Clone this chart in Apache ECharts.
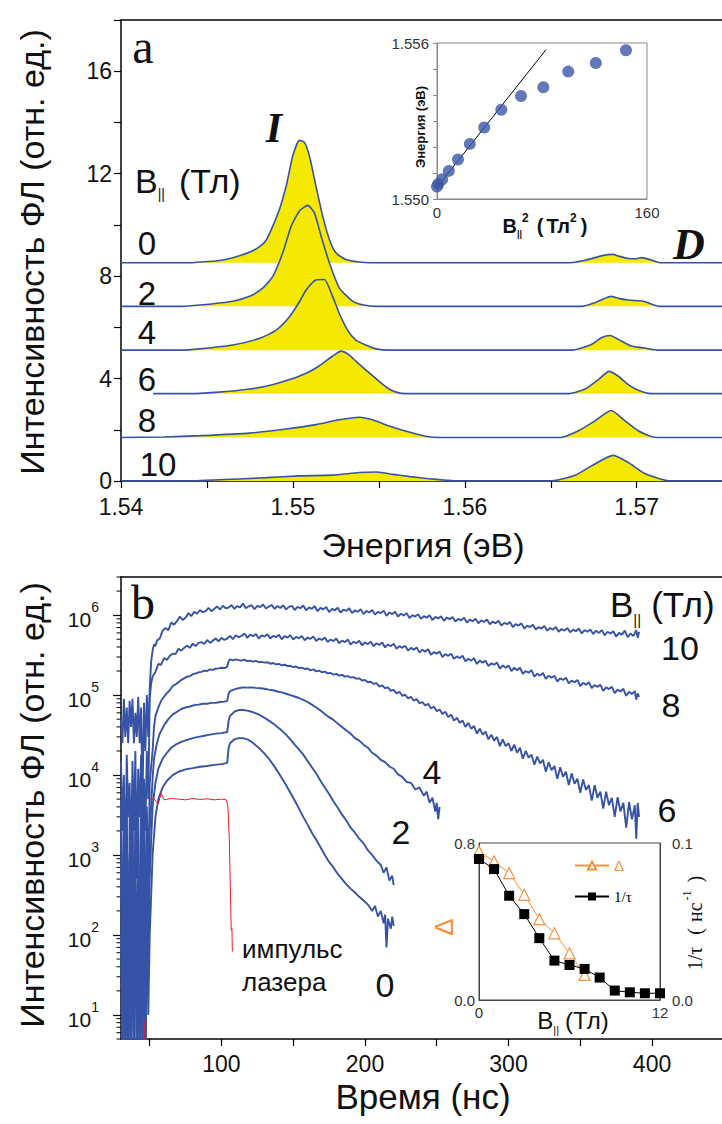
<!DOCTYPE html>
<html><head><meta charset="utf-8">
<script src="https://cdn.jsdelivr.net/npm/echarts@6/dist/echarts.min.js"></script>
<style>html,body{margin:0;padding:0;background:#fff}#c{width:722px;height:1124px}</style>
</head><body><div id="c"></div>
<script>
const SANS = '"Liberation Sans", Arial, sans-serif';
const SERIF = '"Liberation Serif", "Times New Roman", serif';
const BLUE = '#3653a6', YEL = '#f6e900', RED = '#ee1c24', ORANGE = '#f5923e', INK = '#111';

// ---------- panel a : spectra ----------
const fieldsA = ['0','2','4','6','8','10'];
const baselineA = [8.52, 6.82, 5.11, 3.41, 1.70, 0];
const spec0 = [[1.5400,0],[1.5440,0],[1.5446,0.03],[1.5455,0.07],[1.5465,0.2],[1.5475,0.42],[1.5481,0.65],[1.54845,0.89],[1.54883,1.43],[1.54922,2.09],[1.54961,3.0],[1.54999,4.17],[1.55038,4.78],[1.55067,4.7],[1.55096,4.17],[1.55134,3.0],[1.55173,1.83],[1.55212,0.91],[1.5525,0.39],[1.55308,0.13],[1.55386,0.03],[1.5545,0],[1.5660,0],[1.5670,0.1],[1.5680,0.28],[1.5686,0.33],[1.5690,0.25],[1.5695,0.17],[1.5699,0.16],[1.5703,0.2],[1.5708,0.12],[1.5714,0],[1.575,0]];
const spec2 = [[1.5400,0],[1.5435,0],[1.54458,0.05],[1.54651,0.2],[1.54748,0.39],[1.54826,0.72],[1.54883,1.17],[1.54941,2.09],[1.5499,3.13],[1.55038,3.72],[1.55086,3.94],[1.55125,3.65],[1.55164,2.74],[1.55212,1.7],[1.5527,0.72],[1.55347,0.2],[1.55405,0.06],[1.55483,0],[1.5668,0],[1.5676,0.15],[1.5681,0.3],[1.5685,0.39],[1.5690,0.3],[1.5695,0.25],[1.5700,0.22],[1.5704,0.2],[1.5708,0.1],[1.5713,0],[1.575,0]];
const spec4 = [[1.5400,0],[1.5435,0],[1.54458,0.05],[1.54651,0.2],[1.54806,0.46],[1.54903,0.78],[1.5498,1.3],[1.55038,1.89],[1.55077,2.35],[1.55134,2.74],[1.55183,2.76],[1.55231,2.09],[1.5527,1.43],[1.55318,0.78],[1.55366,0.39],[1.55424,0.2],[1.55483,0.05],[1.5556,0],[1.5662,0],[1.56736,0.22],[1.56794,0.48],[1.56844,0.57],[1.56893,0.42],[1.56968,0.16],[1.57047,0.08],[1.5712,0],[1.575,0]];
const spec6 = [[1.54187,0],[1.5440,0],[1.5455,0.05],[1.5475,0.18],[1.5488,0.35],[1.5498,0.55],[1.5508,0.81],[1.5515,1.07],[1.5523,1.46],[1.5528,1.66],[1.5532,1.55],[1.5537,1.25],[1.5542,0.95],[1.5549,0.55],[1.5555,0.22],[1.556,0.06],[1.5566,0],[1.566,0],[1.567,0.18],[1.56777,0.55],[1.56839,0.87],[1.56893,0.68],[1.56951,0.35],[1.57009,0.13],[1.57084,0],[1.575,0]];
const spec8 = [[1.54,0],[1.5425,0.02],[1.54458,0.07],[1.54748,0.17],[1.54961,0.33],[1.55134,0.5],[1.5527,0.69],[1.55386,0.79],[1.55463,0.69],[1.5556,0.45],[1.55681,0.2],[1.55778,0.04],[1.5585,0],[1.5656,0],[1.56661,0.26],[1.56758,0.65],[1.56851,1.05],[1.56932,0.65],[1.57009,0.26],[1.57084,0.04],[1.5712,0],[1.575,0]];
const spec10 = [[1.54,0],[1.5445,0.02],[1.54651,0.07],[1.54845,0.13],[1.55038,0.2],[1.55231,0.23],[1.55386,0.33],[1.55488,0.35],[1.55584,0.26],[1.55681,0.17],[1.55778,0.1],[1.55894,0.03],[1.5595,0],[1.565,0],[1.56642,0.22],[1.56736,0.59],[1.56864,1.0],[1.56951,0.72],[1.57047,0.29],[1.57142,0.07],[1.572,0],[1.575,0]];
const spectraA = [spec0, spec2, spec4, spec6, spec8, spec10];

// ---------- inset a ----------
const insetBsq = [0,1,4,9,16,25,36,49,64,81,100,121,144];
const insetEnergy = [1.55048,1.55058,1.55076,1.55108,1.55152,1.55212,1.55275,1.55343,1.55396,1.5543,1.5549,1.55523,1.55572];
const fitBsq = [0, 83];
const fitEnergy = [1.55045, 1.55574];

// ---------- panel b : decays ----------
const noiseT = [30,31,32,33,34,35,36,37,38,39,40,41,42,43,44,45,46,47,48,49];
const noise10 = [5e4,2.5e4,9e4,3e4,7e4,2.5e4,8.5e4,4e4,9e4,2.5e4,6e4,3e4,9.5e4,2.5e4,7e4,5e3,8e4,2e4,1e5,3e4];
const noise8 = [1.5e4,2e3,1e4,500,1.8e4,3e3,8e3,1e3,1.5e4,2e3,2e4,800,1.2e4,3e3,1.8e4,1e3,9e3,2e3,2e4,5e3];
const noise6 = [5e3,20,4e3,200,5e3,8,3e3,100,5e3,30,4e3,500,5e3,10,3e3,200,5e3,50,4e3,300];
const noise4 = [3e3,2,2e3,50,4e3,3,1e3,10,3e3,2,500,40,2e3,3,4e3,20,1e3,2,2e3,100];
const noise2 = [800,3,1e3,2,300,20,900,1,500,8,700,3,200,2,1e3,5,400,2,800,30];
const noise0 = [100,2,400,3,60,1,200,2,50,6,300,1,150,4,80,2,300,3,200,10];
const decay10 = [[50,1.2e5],[51,2.6e5],[52,3.6e5],[53,4.3e5],[54,4.1e5],[55,4.8e5],[57,5.1e5],[59,6.4e5],[61,6.9e5],[63,6.5e5],[65,8.1e5],[67,7.6e5],[69,8.4e5],[71,9.6e5],[73,8.7e5],[75,9.3e5],[77,1.06e6],[79,9.7e5],[81,1.1e6],[83,1.04e6],[85,1.16e6],[87,1.09e6],[89,1.12e6],[91,1.23e6],[93,1.12e6],[95,1.2e6],[97,1.28e6],[99,1.18e6],[101,1.31e6],[103,1.22e6],[105,1.24e6],[107,1.34e6],[109,1.2e6],[111,1.3e6],[113,1.25e6],[115,1.4e6],[117,1.22e6],[119,1.29e6],[121,1.33e6],[123,1.19e6],[125,1.31e6],[127,1.26e6],[129,1.36e6],[131,1.21e6],[133,1.28e6],[135,1.34e6],[137,1.2e6],[139,1.3e6],[141,1.23e6],[143,1.33e6],[145,1.18e6],[147,1.27e6],[149,1.31e6],[151,1.16e6],[153,1.27e6],[155,1.22e6],[157,1.32e6],[159,1.15e6],[161,1.25e6],[163,1.2e6],[165,1.29e6],[167,1.12e6],[169,1.23e6],[171,1.18e6],[173,1.27e6],[175,1.09e6],[177,1.2e6],[179,1.15e6],[181,1.24e6],[183,1.08e6],[185,1.17e6],[187,1.13e6],[189,1.22e6],[191,1.06e6],[193,1.15e6],[195,1.1e6],[197,1.19e6],[199,1.03e6],[201,1.13e6],[203,1.08e6],[205,1.16e6],[207,1.02e6],[209,1.1e6],[211,1.06e6],[213,1.14e6],[215,9.8e5],[217,1.08e6],[219,1.03e6],[221,1.1e6],[223,9.6e5],[225,1.04e6],[227,9.9e5],[229,1.06e6],[231,9.2e5],[233,1.0e6],[235,9.6e5],[237,1.03e6],[239,9.0e5],[241,9.7e5],[243,9.3e5],[245,1.0e6],[247,8.7e5],[249,9.5e5],[251,9.1e5],[253,9.7e5],[255,8.5e5],[257,9.3e5],[259,8.9e5],[261,9.5e5],[263,8.3e5],[265,9.0e5],[267,8.6e5],[269,9.3e5],[271,8.1e5],[273,8.8e5],[275,8.4e5],[277,9.0e5],[279,7.9e5],[281,8.6e5],[283,8.2e5],[285,8.8e5],[287,7.7e5],[289,8.3e5],[291,7.9e5],[293,8.5e5],[295,7.4e5],[297,8.0e5],[299,7.7e5],[301,8.2e5],[303,7.1e5],[305,7.7e5],[307,7.4e5],[309,7.9e5],[311,6.8e5],[313,7.4e5],[315,7.1e5],[317,7.6e5],[319,6.6e5],[321,7.1e5],[323,6.8e5],[325,7.3e5],[327,6.4e5],[329,6.9e5],[331,6.6e5],[333,7.1e5],[335,6.2e5],[337,6.7e5],[339,6.4e5],[341,6.9e5],[343,6.1e5],[345,6.6e5],[347,6.3e5],[349,6.8e5],[351,5.9e5],[353,6.5e5],[355,6.2e5],[357,6.6e5],[359,5.8e5],[361,6.4e5],[363,6.0e5],[365,6.5e5],[367,5.6e5],[369,6.2e5],[371,5.9e5],[373,6.3e5],[375,5.4e5],[377,6.0e5],[379,5.7e5],[381,6.4e5],[383,5.3e5],[385,5.9e5],[387,5.5e5],[389,6.5e5],[390,5.2e5],[391,6.2e5]];
const decay8 = [[50,9e4],[51,1.4e5],[52,1.7e5],[54,1.95e5],[56,2.45e5],[58,2.4e5],[60,2.9e5],[62,2.75e5],[64,3.1e5],[66,3.3e5],[68,3.25e5],[70,3.8e5],[72,3.6e5],[74,3.9e5],[76,4.15e5],[78,3.9e5],[80,4.4e5],[82,4.1e5],[84,4.5e5],[86,4.6e5],[88,4.35e5],[90,4.9e5],[92,4.5e5],[94,4.8e5],[96,5.1e5],[98,4.7e5],[100,5.2e5],[102,4.9e5],[104,5.1e5],[106,5.5e5],[108,5.0e5],[110,5.6e5],[112,5.3e5],[114,5.5e5],[116,5.9e5],[118,5.2e5],[120,5.7e5],[122,5.45e5],[124,5.8e5],[126,5.1e5],[128,5.6e5],[130,5.4e5],[132,5.75e5],[134,5.1e5],[136,5.5e5],[138,5.3e5],[140,5.7e5],[142,5.0e5],[144,5.45e5],[146,5.25e5],[148,5.6e5],[150,4.95e5],[152,5.35e5],[154,5.15e5],[156,5.5e5],[158,4.85e5],[160,5.25e5],[162,5.05e5],[164,5.4e5],[166,4.75e5],[168,5.1e5],[170,4.9e5],[172,5.25e5],[174,4.6e5],[176,4.95e5],[178,4.75e5],[180,5.1e5],[182,4.45e5],[184,4.8e5],[186,4.6e5],[188,4.95e5],[190,4.3e5],[192,4.65e5],[194,4.45e5],[196,4.8e5],[198,4.2e5],[200,4.55e5],[202,4.35e5],[204,4.65e5],[206,4.1e5],[208,4.45e5],[210,4.25e5],[212,4.55e5],[214,3.95e5],[216,4.3e5],[218,4.1e5],[220,4.4e5],[222,3.8e5],[224,4.1e5],[226,3.9e5],[228,4.15e5],[230,3.6e5],[232,3.9e5],[234,3.7e5],[236,3.95e5],[238,3.4e5],[240,3.7e5],[242,3.5e5],[244,3.75e5],[246,3.2e5],[248,3.45e5],[250,3.3e5],[252,3.5e5],[254,3.0e5],[256,3.25e5],[258,3.1e5],[260,3.3e5],[262,2.85e5],[264,3.05e5],[266,2.9e5],[268,3.1e5],[270,2.65e5],[272,2.85e5],[274,2.7e5],[276,2.9e5],[278,2.45e5],[280,2.7e5],[282,2.55e5],[284,2.7e5],[286,2.3e5],[288,2.5e5],[290,2.4e5],[292,2.55e5],[294,2.15e5],[296,2.35e5],[298,2.2e5],[300,2.35e5],[302,2.0e5],[304,2.2e5],[306,2.05e5],[308,2.2e5],[310,1.85e5],[312,2.0e5],[314,1.9e5],[316,2.05e5],[318,1.7e5],[320,1.85e5],[322,1.75e5],[324,1.9e5],[326,1.6e5],[328,1.75e5],[330,1.65e5],[332,1.75e5],[334,1.48e5],[336,1.62e5],[338,1.55e5],[340,1.65e5],[342,1.4e5],[344,1.52e5],[346,1.45e5],[348,1.55e5],[350,1.3e5],[352,1.42e5],[354,1.35e5],[356,1.45e5],[358,1.22e5],[360,1.33e5],[362,1.27e5],[364,1.35e5],[366,1.13e5],[368,1.25e5],[370,1.19e5],[372,1.27e5],[374,1.06e5],[376,1.17e5],[378,1.11e5],[380,1.2e5],[382,9.8e4],[384,1.1e5],[386,1.03e5],[388,1.12e5],[389,8.8e4],[390,1.05e5],[391,9.5e4]];
const decay6 = [[50,8e3],[52,2e4],[53,4e4],[54,5.5e4],[56,7e4],[58,8.5e4],[60,9.6e4],[62,1.06e5],[64,1.15e5],[66,1.3e5],[68,1.36e5],[70,1.45e5],[72,1.55e5],[74,1.62e5],[76,1.7e5],[78,1.72e5],[80,1.83e5],[82,1.86e5],[84,1.93e5],[86,1.95e5],[88,2.02e5],[90,2.0e5],[92,2.1e5],[94,2.07e5],[96,2.14e5],[98,2.16e5],[100,2.2e5],[102,2.18e5],[104,2.26e5],[105,2.65e5],[106,2.8e5],[108,2.72e5],[110,2.8e5],[112,2.74e5],[114,2.7e5],[116,2.78e5],[118,2.66e5],[120,2.7e5],[122,2.62e5],[124,2.68e5],[126,2.58e5],[128,2.6e5],[130,2.55e5],[132,2.58e5],[134,2.47e5],[136,2.52e5],[138,2.42e5],[140,2.46e5],[142,2.36e5],[144,2.4e5],[146,2.3e5],[148,2.33e5],[150,2.24e5],[152,2.28e5],[154,2.18e5],[156,2.21e5],[158,2.12e5],[160,2.15e5],[162,2.04e5],[164,2.1e5],[166,1.98e5],[168,2.02e5],[170,1.93e5],[172,1.97e5],[174,1.87e5],[176,1.9e5],[178,1.8e5],[180,1.84e5],[182,1.75e5],[184,1.79e5],[186,1.7e5],[188,1.73e5],[190,1.66e5],[192,1.68e5],[194,1.6e5],[196,1.62e5],[198,1.52e5],[200,1.55e5],[202,1.45e5],[204,1.47e5],[206,1.38e5],[208,1.41e5],[210,1.28e5],[212,1.32e5],[214,1.22e5],[216,1.25e5],[218,1.13e5],[220,1.16e5],[222,1.05e5],[224,1.1e5],[226,9.8e4],[228,1.01e5],[230,9.1e4],[232,9.5e4],[234,8.5e4],[236,8.9e4],[238,7.9e4],[240,8.2e4],[242,7.4e4],[244,7.8e4],[246,6.8e4],[248,7.2e4],[250,6.3e4],[252,6.6e4],[254,5.8e4],[256,6.2e4],[258,5.3e4],[260,5.7e4],[262,4.8e4],[264,5.2e4],[266,4.5e4],[268,4.8e4],[270,4.0e4],[272,4.5e4],[274,3.8e4],[276,4.1e4],[278,3.3e4],[280,3.8e4],[282,3.2e4],[284,3.5e4],[286,2.8e4],[288,3.2e4],[290,2.7e4],[292,3.0e4],[294,2.3e4],[296,2.8e4],[298,2.3e4],[300,2.5e4],[302,2.0e4],[304,2.4e4],[306,1.9e4],[308,2.2e4],[310,1.6e4],[312,2.0e4],[314,1.65e4],[316,1.8e4],[318,1.35e4],[320,1.7e4],[322,1.4e4],[324,1.55e4],[326,1.1e4],[328,1.45e4],[330,1.15e4],[332,1.3e4],[334,9e3],[336,1.25e4],[338,9.5e3],[340,1.1e4],[342,7.5e3],[344,1.05e4],[346,7.8e3],[348,9e3],[350,6e3],[352,8.8e3],[354,6.5e3],[356,7.5e3],[358,4.8e3],[360,7.5e3],[362,5.2e3],[364,6.2e3],[366,3.8e3],[368,6.2e3],[370,4.2e3],[372,5.2e3],[374,3.0e3],[376,5.3e3],[378,3.5e3],[380,4.5e3],[382,2.2e3],[384,4.6e3],[386,2.8e3],[388,4.2e3],[389,1.6e3],[390,4.5e3],[391,3e3]];
const decay4 = [[50,2e3],[51,4e3],[52,9e3],[53,1.6e4],[55,2.5e4],[57,3.3e4],[60,4.2e4],[63,5e4],[66,5.7e4],[69,6.2e4],[72,6.7e4],[75,7.0e4],[78,7.2e4],[81,7.5e4],[84,7.6e4],[87,7.8e4],[90,7.8e4],[93,8.0e4],[96,8.0e4],[99,8.2e4],[102,8.3e4],[104,8.4e4],[105,1.05e5],[106,1.12e5],[109,1.18e5],[112,1.22e5],[115,1.25e5],[118,1.24e5],[121,1.25e5],[124,1.23e5],[127,1.22e5],[130,1.2e5],[133,1.17e5],[136,1.15e5],[139,1.11e5],[142,1.08e5],[145,1.04e5],[148,1.0e5],[151,9.6e4],[154,9.2e4],[157,8.7e4],[160,8.2e4],[163,7.6e4],[166,7.0e4],[169,6.4e4],[172,5.8e4],[175,5.3e4],[178,4.9e4],[181,4.4e4],[184,4.0e4],[187,3.6e4],[190,3.3e4],[193,2.9e4],[196,2.7e4],[199,2.4e4],[202,2.2e4],[205,1.9e4],[208,1.75e4],[211,1.55e4],[214,1.45e4],[217,1.28e4],[220,1.2e4],[223,1.02e4],[226,9.5e3],[229,8.2e3],[232,8.0e3],[235,6.6e3],[238,7.0e3],[241,5.5e3],[243,6.2e3],[245,4.5e3],[247,5.2e3],[249,3.5e3],[250,4.5e3],[251,2.8e3],[252,4e3]];
const decay2 = [[50,500],[51,1.5e3],[52,4e3],[54,8e3],[56,1.2e4],[59,1.6e4],[62,1.9e4],[65,2.2e4],[68,2.4e4],[72,2.6e4],[76,2.75e4],[80,2.9e4],[84,3.0e4],[88,3.1e4],[92,3.2e4],[96,3.3e4],[100,3.35e4],[104,3.45e4],[105,4.8e4],[106,5.5e4],[109,6.2e4],[112,6.5e4],[115,6.5e4],[118,6.4e4],[121,6.2e4],[124,5.9e4],[127,5.6e4],[130,5.2e4],[133,4.8e4],[136,4.4e4],[139,4.0e4],[142,3.6e4],[145,3.2e4],[148,2.8e4],[151,2.4e4],[154,2.1e4],[157,1.8e4],[160,1.5e4],[163,1.25e4],[166,1.05e4],[169,8.5e3],[172,7e3],[175,5.8e3],[178,4.7e3],[181,3.9e3],[184,3.2e3],[187,2.7e3],[190,2.2e3],[193,1.9e3],[196,1.6e3],[199,1.4e3],[202,1.15e3],[205,1e3],[208,850],[211,750],[213,600],[215,700],[217,480],[219,550],[220,420]];
const decay0 = [[50,100],[51,300],[52,1e3],[54,3e3],[56,5e3],[59,7e3],[62,8.5e3],[66,1.0e4],[70,1.1e4],[75,1.18e4],[80,1.22e4],[85,1.27e4],[90,1.3e4],[95,1.34e4],[100,1.37e4],[104,1.42e4],[105,2.2e4],[106,2.5e4],[109,2.8e4],[112,2.9e4],[115,2.9e4],[118,2.8e4],[121,2.6e4],[124,2.35e4],[127,2.1e4],[130,1.85e4],[133,1.6e4],[136,1.35e4],[139,1.12e4],[142,9.2e3],[145,7.5e3],[148,6e3],[151,4.8e3],[154,3.8e3],[157,3e3],[160,2.4e3],[163,1.9e3],[166,1.55e3],[169,1.25e3],[172,1.0e3],[175,820],[178,700],[181,580],[184,500],[187,430],[190,380],[193,340],[196,300],[199,270],[202,240],[205,200],[207,230],[209,170],[211,200],[213,140],[214,180],[215,70],[216,160],[218,120],[219,170],[220,130]];
const laser = [[45.6,1],[46,8.5],[46.4,1],[46.6,'-'],[50,5e3],[53,5e3],[56,4.4e3],[58,5.9e3],[60,4.9e3],[65,5.1e3],[70,5.0e3],[75,4.9e3],[80,5.1e3],[85,4.95e3],[90,5.05e3],[95,4.9e3],[100,5.0e3],[103.4,4.9e3],[104.5,4e3],[105.5,1.5e3],[106.8,115],[107.3,120],[107.6,62]];
const fieldsB = ['10','8','6','4','2','0'];

// ---------- inset b ----------
const insetField = [0,1,2,3,4,5,6,7,8,9,10,11,12];
const insetDelta = [0.757,0.706,0.647,0.536,0.412,0.340,0.238,0.128];
const insetInvTau = [0.0898,0.0834,0.0664,0.0547,0.0394,0.0251,0.0223,0.0198,0.0143,0.0060,0.0049,0.0043,0.0043];

// ---------- helpers ----------
const mctx = document.createElement('canvas').getContext('2d');
function run(pieces, x, y, opts) {
  opts = opts || {};
  let w = 0; const kids = [];
  pieces.forEach(p => {
    if (p.gap) { w += p.gap; return; }
    const fam = p.family || SANS;
    mctx.font = (p.style || 'normal') + ' ' + (p.weight || 'normal') + ' ' + p.size + 'px ' + fam;
    const pw = mctx.measureText(p.t).width;
    kids.push({type: 'text', x: w, y: p.dy || 0, silent: true, style: {text: p.t, fontSize: p.size, fontFamily: fam,
      fontWeight: p.weight || 'normal', fontStyle: p.style || 'normal', fill: p.color || INK, align: 'left', verticalAlign: 'middle'}});
    w += pw;
  });
  const off = opts.anchor === 'left' ? 0 : -w / 2;
  kids.forEach(k => { k.x += off; });
  return {type: 'group', x: x, y: y, rotation: opts.rotation || 0, children: kids};
}
const lbl = (t, x, y, size, extra) => run([Object.assign({t: t, size: size}, extra || {})], x, y);

const axisBlack = {lineStyle: {color: '#000', width: 1.5}};
const series = [];
spectraA.forEach((sp, k) => {
  series.push({type: 'line', xAxisIndex: 0, yAxisIndex: 0, data: sp.map(p => [p[0], baselineA[k] + p[1]]),
    symbol: 'none', smooth: 0.2, lineStyle: {color: BLUE, width: 1.6},
    areaStyle: {color: YEL, opacity: 1, origin: baselineA[k]}, silent: true, z: 3 + k});
});
series.push({type: 'line', xAxisIndex: 4, yAxisIndex: 2, data: fitBsq.map((b, i) => [b, fitEnergy[i]]), symbol: 'none',
  lineStyle: {color: '#000', width: 1}, silent: true, z: 20});
series.push({type: 'scatter', xAxisIndex: 4, yAxisIndex: 2, data: insetBsq.map((b, i) => [b, insetEnergy[i]]), symbolSize: 12,
  itemStyle: {color: '#3b58a8'}, silent: true, z: 21});

const noises = [noise10, noise8, noise6, noise4, noise2, noise0];
const decays = [decay10, decay8, decay6, decay4, decay2, decay0];
decays.forEach((d, k) => {
  series.push({type: 'line', xAxisIndex: 2, yAxisIndex: 1, data: noiseT.map((t, i) => [t, noises[k][i]]).concat(d),
    symbol: 'none', lineStyle: {color: BLUE, width: 1.9}, silent: true, z: 5});
});
series.push({type: 'line', xAxisIndex: 2, yAxisIndex: 1, data: laser, symbol: 'none', connectNulls: false,
  lineStyle: {color: RED, width: 1}, silent: true, z: 6});

const minorVals = [];
for (let e = 0; e <= 6; e++) for (let m = 2; m <= 9; m++) { const v = m * Math.pow(10, e); if (v >= 5 && v <= 3e6) minorVals.push(v); }
series.push({type: 'custom', xAxisIndex: 2, yAxisIndex: 1, data: minorVals.map(v => [30, v]), silent: true, clip: false, z: 1,
  renderItem: (params, api) => { const p = api.coord([api.value(0), api.value(1)]);
    return {type: 'line', shape: {x1: p[0] - 4.5, y1: p[1], x2: p[0], y2: p[1]}, style: {stroke: '#000', lineWidth: 1}}; }});

series.push({name: 'Δ', type: 'line', xAxisIndex: 5, yAxisIndex: 3, data: insetDelta.map((v, i) => [insetField[i], v]),
  symbol: 'triangle', symbolSize: 11, itemStyle: {color: '#fff', borderColor: ORANGE, borderWidth: 1.2},
  lineStyle: {color: ORANGE, width: 1}, silent: true, z: 20});
series.push({name: '1/τ', type: 'line', xAxisIndex: 5, yAxisIndex: 4, data: insetInvTau.map((v, i) => [insetField[i], v]),
  symbol: 'rect', symbolSize: 10, itemStyle: {color: '#000'}, lineStyle: {color: '#000', width: 1}, silent: true, z: 21});

const labelFont = {fontFamily: SANS, color: INK};
const option = {
  animation: false,
  backgroundColor: '#fff',
  grid: [
    {left: 121, top: 20, width: 603, height: 461},
    {left: 121, top: 577, width: 603, height: 462},
    {left: 437, top: 43, width: 210, height: 156, show: true, borderColor: '#888', borderWidth: 1, backgroundColor: 'rgba(0,0,0,0)'},
    {left: 479, top: 843, width: 181, height: 157, show: true, borderColor: '#444', borderWidth: 1, backgroundColor: 'rgba(0,0,0,0)'}
  ],
  xAxis: [
    {type: 'value', gridIndex: 0, min: 1.54, max: 1.57496, interval: 0.005, axisLine: axisBlack,
      axisTick: {length: 7, lineStyle: {color: '#000', width: 1.2}}, splitLine: {show: false},
      axisLabel: Object.assign({margin: 14, fontSize: 23, showMaxLabel: false,
        formatter: v => { const r = Math.round(v * 100); return Math.abs(v * 100 - r) < 1e-6 ? (r / 100).toFixed(2) : ''; }}, labelFont)},
    {type: 'value', gridIndex: 0, position: 'top', min: 1.54, max: 1.57496, axisLine: axisBlack, axisTick: {show: false}, axisLabel: {show: false}, splitLine: {show: false}},
    {type: 'value', gridIndex: 1, min: 30, max: 448.75, splitNumber: 9, axisLine: axisBlack,
      axisTick: {length: 7, lineStyle: {color: '#000', width: 1.2}}, splitLine: {show: false},
      axisLabel: Object.assign({margin: 13, fontSize: 23, showMinLabel: false, showMaxLabel: false,
        formatter: v => (Math.abs(v % 100) < 1e-6 ? String(Math.round(v)) : '')}, labelFont)},
    {type: 'value', gridIndex: 1, position: 'top', min: 30, max: 448.75, axisLine: axisBlack, axisTick: {show: false}, axisLabel: {show: false}, splitLine: {show: false}},
    {type: 'value', gridIndex: 2, min: 0, max: 160, interval: 160, axisLine: {show: true, lineStyle: {color: '#888', width: 1}},
      axisTick: {show: false}, splitLine: {show: false}, axisLabel: {margin: 6, fontSize: 15, fontFamily: SANS, color: '#333'}},
    {type: 'value', gridIndex: 3, min: 0, max: 12, interval: 12, axisLine: {show: true, lineStyle: {color: '#444', width: 1}},
      axisTick: {show: false}, splitLine: {show: false}, axisLabel: {margin: 5, fontSize: 15, fontFamily: SANS, color: '#333'}}
  ],
  yAxis: [
    {type: 'value', gridIndex: 0, min: 0, max: 18, interval: 2, axisLine: Object.assign({show: true}, axisBlack),
      axisTick: {show: true, length: 7, lineStyle: {color: '#000', width: 1.2}}, splitLine: {show: false},
      axisLabel: Object.assign({margin: 9, fontSize: 23, formatter: v => (v % 4 === 0 ? String(v) : '')}, labelFont)},
    {type: 'log', logBase: 10, gridIndex: 1, min: 5, max: 3e6, axisLine: Object.assign({show: true}, axisBlack),
      axisTick: {show: true, length: 8, lineStyle: {color: '#000', width: 1.2}}, splitLine: {show: false}, minorTick: {show: false},
      axisLabel: {margin: 22, showMinLabel: false, showMaxLabel: false,
        formatter: v => { const k = Math.round(Math.log10(v)); return Math.abs(v - Math.pow(10, k)) < 1e-6 * v ? '{b|10}{s|' + k + '}' : ''; },
        rich: {b: {fontSize: 21, fontFamily: SANS, color: INK, lineHeight: 30, verticalAlign: 'bottom'},
               s: {fontSize: 14, fontFamily: SANS, color: INK, lineHeight: 14, verticalAlign: 'top'}}}},
    {type: 'value', gridIndex: 2, min: 1.55, max: 1.556, interval: 0.001, axisLine: {show: true, lineStyle: {color: '#888', width: 1}},
      axisTick: {show: true, length: 4, lineStyle: {color: '#888'}}, splitLine: {show: false},
      axisLabel: {margin: 8, fontSize: 15, fontFamily: SANS, color: '#333',
        formatter: v => ((Math.abs(v - 1.55) < 1e-7 || Math.abs(v - 1.556) < 1e-7) ? v.toFixed(3) : '')}},
    {type: 'value', gridIndex: 3, min: 0, max: 0.8, interval: 0.8, axisLine: {show: true, lineStyle: {color: '#444', width: 1}},
      axisTick: {show: false}, splitLine: {show: false}, axisLabel: {margin: 4, fontSize: 15, fontFamily: SANS, color: '#333', formatter: v => v.toFixed(1)}},
    {type: 'value', gridIndex: 3, position: 'right', min: 0, max: 0.1, interval: 0.1, axisLine: {show: true, lineStyle: {color: '#444', width: 1}},
      axisTick: {show: false}, splitLine: {show: false}, axisLabel: {margin: 12, fontSize: 15, fontFamily: SANS, color: '#333', formatter: v => v.toFixed(1)}}
  ],
  legend: {show: true, left: 574, top: 858, orient: 'vertical', itemGap: 16, itemWidth: 34, itemHeight: 10, padding: 0, selectedMode: false,
    data: [{name: 'Δ', textStyle: {color: ORANGE}}, {name: '1/τ', textStyle: {color: '#000', fontFamily: SERIF}}],
    textStyle: {fontSize: 15, fontFamily: SANS}},
  series: series,
  graphic: {elements: [
    run([{t: 'Интенсивность ФЛ (отн. ед.)', size: 34}], 32, 252, {rotation: Math.PI / 2}),
    lbl('Энергия (эВ)', 423, 545, 34),
    lbl('a', 143, 46, 48, {family: SERIF}),
    lbl('I', 274, 128, 42, {family: SERIF, weight: 'bold', style: 'italic'}),
    lbl('D', 689, 244, 44, {family: SERIF, weight: 'bold', style: 'italic'}),
    run([{t: 'B', size: 34}, {t: '||', size: 14, dy: 13}, {gap: 14}, {t: '(Тл)', size: 34}], 135, 181, {anchor: 'left'}),
    lbl(fieldsA[0], 147, 243, 33), lbl(fieldsA[1], 147, 293, 33), lbl(fieldsA[2], 147, 332, 33),
    lbl(fieldsA[3], 147, 379, 33), lbl(fieldsA[4], 147, 420, 33), lbl(fieldsA[5], 158, 464, 33),
    run([{t: 'Энергия (эВ)', size: 13, weight: 'bold'}], 420, 127, {rotation: Math.PI / 2}),
    run([{t: 'B', size: 20, weight: 'bold'}, {t: '||', size: 9, weight: 'bold', dy: 8}, {t: '2', size: 12, weight: 'bold', dy: -8},
      {gap: 8}, {t: '(', size: 20, weight: 'bold'}, {gap: 3}, {t: 'Тл', size: 20, weight: 'bold'}, {t: '2', size: 12, weight: 'bold', dy: -8},
      {gap: 4}, {t: ')', size: 20, weight: 'bold'}], 545, 226),
    run([{t: 'Интенсивность ФЛ (отн. ед.)', size: 34}], 32, 805, {rotation: Math.PI / 2}),
    lbl('Время (нс)', 423, 1096, 35),
    lbl('b', 143, 602, 48, {family: SERIF}),
    run([{t: 'B', size: 35}, {t: '||', size: 15, dy: 15}, {gap: 10}, {t: '(Тл)', size: 35}], 610, 604, {anchor: 'left'}),
    lbl(fieldsB[0], 680, 648, 34), lbl(fieldsB[1], 671, 705, 34), lbl(fieldsB[2], 667, 810, 34),
    lbl(fieldsB[3], 432, 772, 34), lbl(fieldsB[4], 401, 832, 34), lbl(fieldsB[5], 385, 985, 34),
    run([{t: 'импульс', size: 26}], 242, 949, {anchor: 'left'}),
    run([{t: 'лазера', size: 26}], 242, 982, {anchor: 'left'}),
    run([{t: 'Δ', size: 26, color: ORANGE}], 444, 927, {rotation: Math.PI / 2}),
    run([{t: '1/τ', size: 20, family: SERIF}, {gap: 12}, {t: '(', size: 20, family: SERIF}, {gap: 6}, {t: 'нс', size: 20, family: SERIF},
      {gap: 2}, {t: '-1', size: 12, family: SERIF, dy: -8}, {gap: 8}, {t: ')', size: 20, family: SERIF}], 695, 923, {rotation: Math.PI / 2}),
    run([{t: 'B', size: 24}, {t: '||', size: 11, dy: 10}, {gap: 6}, {t: '(Тл)', size: 24}], 573, 1020)
  ]}
};
const chart = echarts.init(document.getElementById('c'), null, {renderer: 'svg', width: 722, height: 1124});
chart.setOption(option);
</script></body></html>
